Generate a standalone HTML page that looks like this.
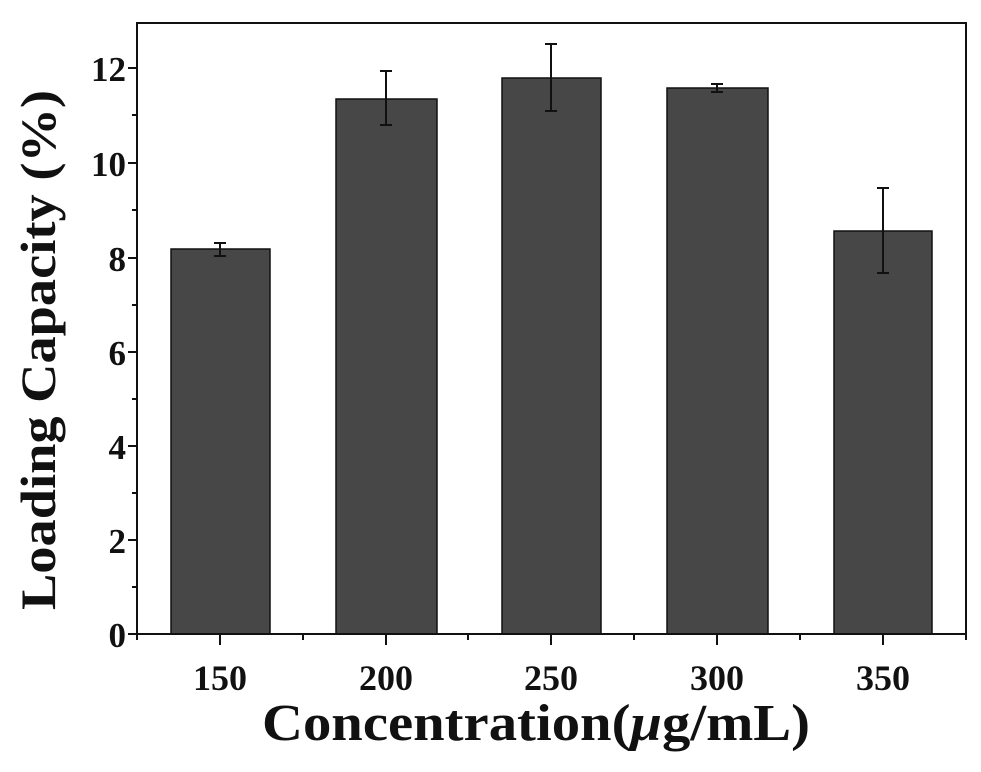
<!DOCTYPE html>
<html><head><style>html,body{margin:0;padding:0;background:#fff;width:981px;height:772px;overflow:hidden}</style></head>
<body>
<svg width="981" height="772" xmlns="http://www.w3.org/2000/svg" font-family="Liberation Serif, serif" font-weight="bold">
<g fill="#474747" stroke="#111" stroke-width="1.5">
<rect x="171" y="249" width="99" height="385"/>
<rect x="336" y="99" width="101" height="535"/>
<rect x="502" y="78" width="99" height="556"/>
<rect x="667" y="88" width="101" height="546"/>
<rect x="834" y="231" width="98" height="403"/>
</g>
<g stroke="#111" stroke-width="2" fill="none">
<path d="M220 243V256M214 243H226M214 256H226"/>
<path d="M386 71V125M380 71H392M380 125H392"/>
<path d="M551 44V111M545 44H557M545 111H557"/>
<path d="M717 84V92M711 84H723M711 92H723"/>
<path d="M883 188V273M877 188H889M877 273H889"/>
<rect x="137" y="23" width="829" height="611"/>
<path d="M137 68H128M137 163H128M137 258H128M137 352H128M137 446H128M137 540H128M137 634H128"/>
<path d="M137 115H132M137 210H132M137 305H132M137 399H132M137 493H132M137 587H132"/>
<path d="M220 634V645M386 634V645M551 634V645M717 634V645M883 634V645"/>
<path d="M137 634V640M303 634V640M468 634V640M634 634V640M800 634V640M966 634V640"/>
</g>
<g font-size="35" text-anchor="end" fill="#111">
<text x="126" y="81">12</text><text x="126" y="176">10</text><text x="126" y="271">8</text>
<text x="126" y="365">6</text><text x="126" y="459">4</text><text x="126" y="553">2</text><text x="126" y="647">0</text>
</g>
<g font-size="36" text-anchor="middle" fill="#111">
<text x="220" y="690">150</text><text x="386" y="690">200</text><text x="551" y="690">250</text>
<text x="717" y="690">300</text><text x="883" y="690">350</text>
</g>
<text x="262" y="740" font-size="52" textLength="548" lengthAdjust="spacingAndGlyphs" fill="#111">Concentration(<tspan font-style="italic">μ</tspan>g/mL)</text>
<text transform="translate(55,350) rotate(-90)" x="-260" font-size="50" textLength="520" lengthAdjust="spacingAndGlyphs" fill="#111">Loading Capacity (%)</text>
</svg>
</body></html>
